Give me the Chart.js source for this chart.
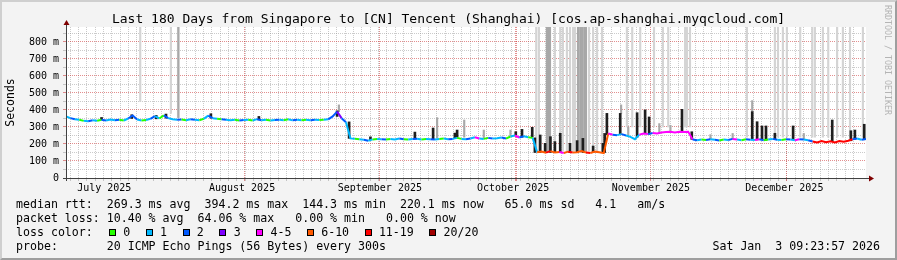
<!DOCTYPE html>
<html>
<head>
<meta charset="utf-8">
<script src="https://cdn.jsdelivr.net/npm/chart.js@4.4.1/dist/chart.umd.min.js"></script>
<style>
  body { margin: 0; background: #fff; }
  #wrap { position: relative; width: 897px; height: 260px; background: #f3f3f3; overflow: hidden;
          font-family: 'DejaVu Sans Mono', monospace; color: #000; }
  #frame { position: absolute; left: 0; top: 0; width: 897px; height: 260px; box-sizing: border-box;
           border-top: 2px solid #cfcfcf; border-left: 2px solid #cfcfcf;
           border-bottom: 2px solid #9e9e9e; border-right: 2px solid #9e9e9e; }
  #chartCanvas { position: absolute; left: 0; top: 0; }
  .txt { position: absolute; margin: 0; white-space: pre; }
  #title { left: 0; top: 11px; width: 897px; text-align: center; font-size: 13px; }
  #stats { left: 16px; top: 196.7px; font-size: 11.6px; line-height: 14px; font-family: 'DejaVu Sans Mono', monospace; }
  #lossLegend { left: 109px; top: 224.7px; font-size: 11.6px; line-height: 14px; }
  #lossLegend .box { display: inline-block; width: 5px; height: 5px; border: 1px solid #000; margin-right: 7.3px; }
  #lossLegend .item { margin-right: 15.5px; }
  #stamp { right: 17px; top: 238.7px; font-size: 11.6px; line-height: 14px; }
  #credit { left: 883px; top: 5px; writing-mode: vertical-rl; font-size: 8.3px; color: #b4b4b4; }
</style>
</head>
<body>
<div id="wrap">
  <div id="frame"></div>
  <canvas id="chartCanvas" width="897" height="260"></canvas>
  <div id="title" class="txt">Last 180 Days from Singapore to [CN] Tencent (Shanghai) [cos.ap-shanghai.myqcloud.com]</div>
  <div id="credit" class="txt">RRDTOOL / TOBI OETIKER</div>
  <pre id="stats" class="txt">median rtt:  269.3 ms avg  394.2 ms max  144.3 ms min  220.1 ms now   65.0 ms sd   4.1   am/s
packet loss: 10.40 % avg  64.06 % max   0.00 % min   0.00 % now
loss color:
probe:       20 ICMP Echo Pings (56 Bytes) every 300s</pre>
  <div id="lossLegend" class="txt"></div>
  <div id="stamp" class="txt">Sat Jan  3 09:23:57 2026</div>
</div>
<script>
// day 0 = Jul 7 2025 09:24, one median value per day (ms)
const medianMs = [
  362, 352, 346, 343, 336, 334, 340, 337, 342, 338, 344, 340, 343, 338, 350, 368,
  344, 338, 341, 348, 364, 350, 368, 352, 345, 343, 344, 340, 345, 342, 340, 348,
  367, 352, 348, 345, 342, 340, 342, 338, 341, 343, 338, 346, 340, 342, 338, 341,
  343, 340, 345, 339, 343, 340, 342, 340, 342, 341, 343, 345, 362, 390, 352, 328,
  233, 231, 228, 225, 219, 227, 230, 228, 226, 229, 227, 232, 228, 226, 229, 231,
  227, 229, 228, 226, 230, 232, 228, 230, 236, 230, 228, 232, 240, 232, 230, 236,
  232, 234, 238, 232, 244, 250, 238, 246, 240, 236,
  152, 156, 149, 158, 150, 153, 147, 155, 150, 152, 158, 150, 147, 155, 151, 146,
  262, 255, 252, 258, 250, 242, 228, 255, 262, 258, 265, 262, 268, 270, 272, 268,
  272, 270, 272,
  227, 222, 226, 224, 228, 225, 221, 226, 224, 230, 226, 222, 228, 225, 224, 228,
  222, 226, 230, 225, 224, 228, 226, 222, 228, 226, 222, 215, 209, 218, 211, 216,
  209, 218, 213, 219, 228, 232, 225, 230
];

// loss bucket per day, index into lossColors
const lossBucket = [
  1, 2, 1, 0, 1, 2, 1, 0, 2, 1, 1, 2, 0, 1, 2, 2, 1, 0, 1, 2, 1, 0, 2, 1, 1, 2, 0, 1, 2, 1, 0, 1,
  2, 1, 0, 2, 1, 1, 0, 2, 1, 0, 1, 2, 1, 0, 1, 2, 1, 0, 1, 2, 1, 0, 1, 2, 1, 0, 1, 2, 2, 3, 2, 1,
  1, 0, 1, 2, 1, 0, 1, 2, 0, 1, 1, 2, 0, 1, 2, 1, 0, 1, 2, 1, 0, 1, 2, 1, 0, 1, 2, 1, 4, 1, 0, 2,
  1, 1, 2, 0, 1, 4, 2, 1, 0, 1,
  5, 5, 6, 5, 5, 4, 5, 6, 5, 5, 5, 6, 5, 5, 5, 5,
  4, 2, 1, 2, 1, 1, 1, 4, 4, 2, 4, 4, 4, 4, 4, 4, 4, 4, 4,
  2, 1, 0, 2, 1, 2, 0, 1, 2, 4, 1, 0, 2, 1, 4, 2, 0, 1, 2, 1, 0, 2, 1, 4, 2, 1, 2,
  6, 6, 6, 6, 6, 6, 6, 6, 6, 2, 1, 2, 0
];

const lossLabels = ['0', '1', '2', '3', '4-5', '6-10', '11-19', '20/20'];
const lossColors = ['#26ff00', '#00b8ff', '#0059ff', '#7e00ff', '#ff00ff', '#ff5a00', '#ff0000', '#a00000'];

// smoke: scattered pings, day / low / high (ms) / tone (0 light, 1 mid, 2 dark)
const smokeDay = [
  8.0, 14.8, 16.7, 20.3, 22.5, 23.6, 25.2, 25.3, 32.6, 43.4, 61.0, 61.4, 63.7,
  68.5, 78.5, 82.6, 83.5, 87.5, 88.0, 89.6, 94.0, 100.0, 101.2, 102.6, 104.9, 105.5,
  105.8, 106.4, 110.0, 111.2, 111.8, 112.7, 113.4, 114.1, 114.5, 117.7, 118.6, 119.5, 120.6,
  108.2, 108.5, 108.9, 115.2, 115.7, 116.1, 116.6, 117.0,
  106.7, 107.8, 109.0, 110.0, 111.2, 113.4, 115.0, 116.3, 118.6, 120.8, 121.2,
  126.2, 127.4, 129.2, 132.3, 134.3, 135.5, 139.3, 139.7, 140.4,
  121.7, 124.7, 128.5, 130.3, 131.2, 138.6, 124.9, 126.5, 133.5, 136.0, 140.8,
  153.2, 159.5, 160.2, 161.3, 162.2, 165.2, 167.9, 168.5, 170.3, 171.5, 173.5, 174.8, 176.4, 179.3,
  154.4, 155.5, 156.6, 157.5, 159.5, 163.6, 172.4, 176.6, 177.5, 179.6,
  154.4, 145.0, 150.0, 166.0
];
const smokeLo = [
  342, 350, 450, 348, 352, 380, 355, 355, 352, 342, 362, 390, 233,
  225, 230, 230, 235, 236, 240, 240, 235, 246, 250, 240, 242, 150,
  158, 158, 158, 158, 158, 158, 158, 158, 158, 158, 158, 158, 158,
  158, 158, 158, 158, 158, 158, 158, 158,
  150, 150, 150, 150, 150, 150, 150, 150, 150, 150, 150,
  300, 300, 300, 300, 300, 300, 300, 300, 300,
  255, 255, 240, 262, 258, 272, 380, 250, 262, 270, 227,
  240, 240, 240, 240, 240, 240, 240, 240, 240, 240, 240, 240, 240, 240,
  225, 224, 228, 222, 230, 226, 216, 219, 228, 225,
  390, 228, 230, 226
];
const smokeHi = [
  356, 372, 888, 368, 376, 888, 888, 888, 378, 362, 395, 430, 330,
  242, 270, 294, 355, 264, 282, 341, 282, 282, 272, 286, 298, 236,
  888, 888, 888, 888, 888, 888, 888, 888, 888, 888, 888, 888, 888,
  888, 888, 888, 888, 888, 888, 888, 888,
  253, 204, 243, 214, 263, 204, 220, 233, 188, 204, 262,
  888, 888, 888, 888, 888, 888, 888, 888, 888,
  380, 380, 384, 400, 359, 404, 430, 300, 320, 310, 272,
  888, 888, 888, 888, 888, 888, 888, 888, 888, 888, 888, 888, 888, 888,
  390, 331, 306, 306, 263, 306, 341, 278, 282, 316,
  455, 255, 262, 262
];
const smokeTone = [
  2, 2, 0, 2, 2, 0, 0, 1, 2, 2, 2, 1, 2,
  2, 2, 2, 1, 2, 2, 1, 1, 1, 2, 2, 2, 2,
  0, 0, 0, 0, 0, 0, 0, 0, 0, 0, 0, 0, 0,
  1, 1, 1, 1, 1, 1, 1, 1,
  2, 2, 2, 2, 2, 2, 2, 2, 2, 2, 2,
  0, 0, 0, 0, 0, 0, 0, 0, 0,
  2, 2, 2, 2, 2, 2, 1, 1, 1, 1, 2,
  0, 0, 0, 0, 0, 0, 0, 0, 0, 0, 0, 0, 0, 0,
  2, 2, 2, 2, 2, 2, 2, 2, 2, 2,
  1, 1, 1, 1
];
const smokeColors = ['#d4d4d4', '#a8a8a8', '#1e1e1e'];

// x axis, in days from the start of the window
const monthStartDays = [24.61, 55.61, 85.61, 116.61, 146.61, 177.61];
const monthLabelDays = [8.61, 39.61, 70.61, 100.61, 131.61, 161.61];
const monthLabels = ['July 2025', 'August 2025', 'September 2025', 'October 2025', 'November 2025', 'December 2025'];
const totalDays = 180;
const minorStep = 1.875;

// y axis
const yMajorTicks = [0, 100, 200, 300, 400, 500, 600, 700, 800];
const yMajorLabels = ['0', '100 m', '200 m', '300 m', '400 m', '500 m', '600 m', '700 m', '800 m'];
const yMinorTicks = [50, 150, 250, 350, 450, 550, 650, 750, 850];
const yMax = 888;

const minorColor = 'rgba(140,140,140,0.45)';
const majorColor = 'rgba(200,32,32,0.5)';

// legend boxes under the graph
const legendEl = document.getElementById('lossLegend');
lossLabels.forEach((label, i) => {
    const item = document.createElement('span');
    item.className = 'item';
    item.innerHTML = '<span class="box" style="background:' + lossColors[i] + '"></span>' + label;
    legendEl.appendChild(item);
});

function buildXTicks() {
    const ticks = [];
    for (let k = 1; k * minorStep < totalDays; k++) {
        ticks.push({ value: k * minorStep, kind: 'minor' });
    }
    monthStartDays.forEach(d => ticks.push({ value: d, kind: 'major' }));
    monthLabelDays.forEach((d, i) => ticks.push({ value: d, kind: 'label', text: monthLabels[i] }));
    return ticks;
}

function buildYTicks() {
    const ticks = [];
    yMinorTicks.forEach(v => ticks.push({ value: v, kind: 'minor' }));
    yMajorTicks.forEach((v, i) => ticks.push({ value: v, kind: 'major', text: yMajorLabels[i] }));
    return ticks;
}

function gridColor(ctx) {
    const kind = ctx.tick && ctx.tick.kind;
    if (kind === 'major') return majorColor;
    if (kind === 'minor') return minorColor;
    return 'rgba(0,0,0,0)';
}

function smokeSet(tone, order) {
    const pts = [];
    smokeDay.forEach((d, i) => {
        if (smokeTone[i] === tone) pts.push({ x: d, y: [smokeLo[i], smokeHi[i]] });
    });
    return {
        type: 'bar',
        data: pts,
        backgroundColor: smokeColors[tone],
        borderWidth: 0,
        barThickness: tone === 2 ? 2 : 1.5,
        grouped: false,
        order: order
    };
}

const rrdFrame = {
    id: 'rrdFrame',
    beforeDraw(chart) {
        const { ctx, chartArea: a } = chart;
        ctx.save();
        ctx.fillStyle = '#ffffff';
        ctx.fillRect(a.left, a.top, a.right - a.left, a.bottom - a.top);
        ctx.restore();
    },
    afterDraw(chart) {
        const { ctx, chartArea: a } = chart;
        const x0 = a.left + 0.5, y0 = a.bottom + 0.5;
        ctx.save();
        ctx.strokeStyle = '#404040';
        ctx.lineWidth = 1;
        ctx.beginPath();
        ctx.moveTo(x0, a.bottom + 3);
        ctx.lineTo(x0, a.top - 2);
        ctx.moveTo(a.left - 3, y0);
        ctx.lineTo(a.right + 3, y0);
        ctx.stroke();
        ctx.fillStyle = '#7f0000';
        ctx.beginPath(); // y arrow
        ctx.moveTo(x0 - 3, a.top - 2);
        ctx.lineTo(x0 + 3, a.top - 2);
        ctx.lineTo(x0, a.top - 7);
        ctx.fill();
        ctx.beginPath(); // x arrow
        ctx.moveTo(a.right + 3, y0 - 3);
        ctx.lineTo(a.right + 3, y0 + 3);
        ctx.lineTo(a.right + 8, y0);
        ctx.fill();
        ctx.restore();
    }
};

Chart.defaults.font.family = "'DejaVu Sans Mono', monospace";
Chart.defaults.color = '#000';

const ctx = document.getElementById('chartCanvas').getContext('2d');
new Chart(ctx, {
    type: 'line',
    data: {
        datasets: [
            {
                type: 'line',
                data: medianMs.map((v, i) => ({ x: i, y: v })),
                borderColor: lossColors[0],
                borderWidth: 2,
                pointRadius: 0,
                tension: 0,
                segment: {
                    borderColor: c => lossColors[lossBucket[c.p0DataIndex]]
                },
                order: 0
            },
            smokeSet(2, 1),
            smokeSet(1, 2),
            smokeSet(0, 3)
        ]
    },
    options: {
        responsive: false,
        animation: false,
        events: [],
        layout: { padding: { top: 27, right: 31, left: 0, bottom: 0 } },
        plugins: {
            legend: { display: false },
            tooltip: { enabled: false },
            title: { display: false }
        },
        scales: {
            x: {
                type: 'linear',
                min: 0,
                max: totalDays,
                offset: false,
                afterFit: s => { s.height = 82; },
                afterBuildTicks: s => { s.ticks = buildXTicks(); },
                grid: { color: gridColor, tickColor: gridColor, tickLength: 3, lineWidth: 1 },
                border: { display: false, dash: [1, 1] },
                ticks: {
                    autoSkip: false,
                    maxRotation: 0,
                    minRotation: 0,
                    padding: 1,
                    font: { size: 10 },
                    callback: (v, i, ticks) => ticks[i].text || ''
                }
            },
            y: {
                min: 0,
                max: yMax,
                afterFit: s => { s.width = 66; },
                afterBuildTicks: s => { s.ticks = buildYTicks(); },
                grid: { color: gridColor, tickColor: gridColor, tickLength: 3, lineWidth: 1 },
                border: { display: false, dash: [1, 1] },
                title: {
                    display: true,
                    text: 'Seconds',
                    font: { size: 11.5 },
                    padding: { top: 4, bottom: 0 }
                },
                ticks: {
                    autoSkip: false,
                    padding: 4,
                    font: { size: 10 },
                    callback: (v, i, ticks) => ticks[i].text || ''
                }
            }
        }
    },
    plugins: [rrdFrame]
});
</script>
</body>
</html>
